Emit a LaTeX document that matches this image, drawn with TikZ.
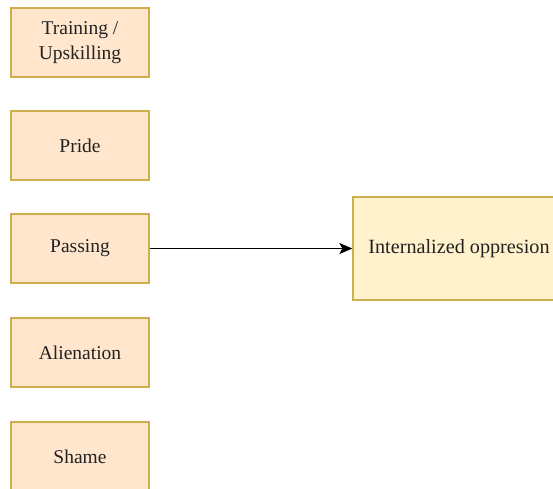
\documentclass[tikz,border=0pt]{standalone}
\usepackage{fontspec}
\setmainfont{Liberation Serif}
\usetikzlibrary{arrows.meta}
\definecolor{peachfill}{HTML}{FFE6CC}
\definecolor{creamfill}{HTML}{FFF2CC}
\definecolor{goldline}{HTML}{CFAE4E}
\definecolor{inktext}{HTML}{222222}
\tikzset{
  factor/.style={draw=goldline, fill=peachfill, line width=1.3pt,
    minimum width=138pt, minimum height=69pt, inner sep=0pt,
    align=center, font=\fontsize{19.5}{25}\selectfont, text=inktext},
  outcome/.style={draw=goldline, fill=creamfill, line width=1.3pt,
    minimum width=212pt, minimum height=103pt, inner sep=0pt,
    font=\fontsize{20.2}{24}\selectfont, text=inktext},
  link/.style={-{Stealth[length=13pt,width=11pt,inset=3pt]}, line width=1.8pt}
}
\begin{document}
\begin{tikzpicture}[x=1pt,y=1pt]
  \useasboundingbox (0,0) rectangle (553,-488);
  \begin{scope}
    \clip (0,0) rectangle (553,-488);
    \node[factor] (train)  at (80,-42.5)  {Training /\\Upskilling};
    \node[factor] (pride)  at (80,-145.5) {Pride};
    \node[factor] (pass)   at (80,-248.5) {Passing};
    \node[factor] (alien)  at (80,-352.5) {Alienation};
    \node[factor] (shame)  at (80,-456.5) {Shame};
    \node[outcome] (intop) at (459,-248.5) {Internalized oppresion};
    \draw[link] (pass) -- (intop);
  \end{scope}
\end{tikzpicture}
\end{document}
